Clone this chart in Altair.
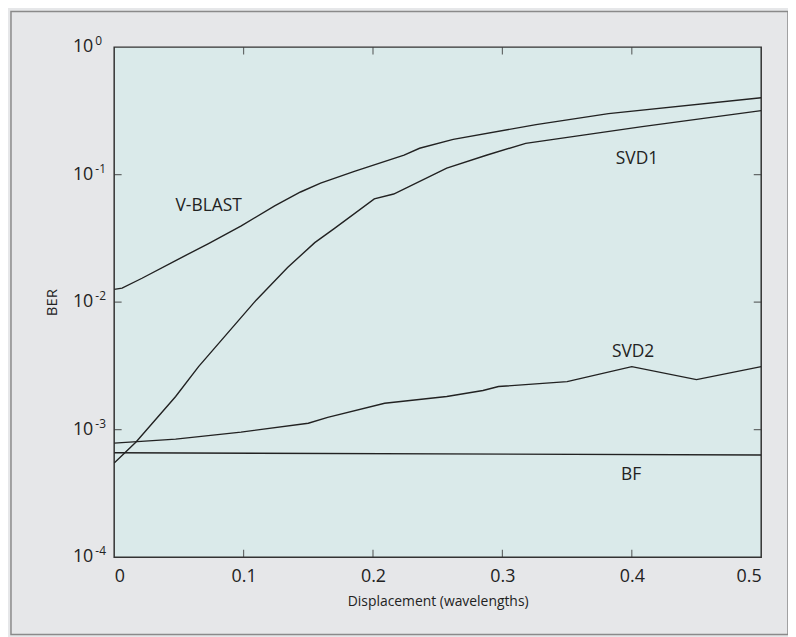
import altair as alt
import pandas as pd

# ---- data ----
vblast_x = [0, 0.0061, 0.0215, 0.0475, 0.0729, 0.0982, 0.124, 0.144, 0.1595, 0.1856, 0.224, 0.236, 0.262, 0.326, 0.382, 0.5]
vblast_y = [0.0126, 0.0129, 0.0154, 0.0212, 0.0288, 0.0397, 0.0568, 0.0731, 0.0859, 0.106, 0.142, 0.161, 0.189, 0.247, 0.301, 0.401]

svd1_x = [0, 0.0169, 0.0475, 0.0652, 0.1097, 0.134, 0.155, 0.170, 0.201, 0.216, 0.257, 0.2876, 0.318, 0.408, 0.5]
svd1_y = [5.48e-4, 8.0e-4, 1.82e-3, 3.12e-3, 1.037e-2, 0.0187, 0.0293, 0.0377, 0.0645, 0.0705, 0.1124, 0.142, 0.176, 0.238, 0.318]

svd2_x = [0, 0.0475, 0.098, 0.15, 0.165, 0.209, 0.257, 0.285, 0.297, 0.35, 0.4, 0.45, 0.5]
svd2_y = [7.85e-4, 8.43e-4, 9.57e-4, 1.124e-3, 1.25e-3, 1.61e-3, 1.82e-3, 2.03e-3, 2.18e-3, 2.38e-3, 3.12e-3, 2.47e-3, 3.12e-3]

bf_x = [0, 0.5]
bf_y = [6.6e-4, 6.33e-4]

label_text = ["V-BLAST", "SVD1", "SVD2", "BF"]
label_x = [0.073, 0.404, 0.401, 0.3995]
label_y = [0.0568, 0.132, 4.08e-3, 4.42e-4]

x_tick_values = [0, 0.1, 0.2, 0.3, 0.4, 0.5]
x_inner_ticks = [0.1, 0.2, 0.3, 0.4]
y_tick_values = [1, 0.1, 0.01, 0.001, 0.0001]
y_tick_exps = ["0", "-1", "-2", "-3", "-4"]
y_inner_ticks = [0.1, 0.01, 0.001]

# ---- tables ----
rows = []
for name, xs, ys in [("V-BLAST", vblast_x, vblast_y), ("SVD1", svd1_x, svd1_y),
                     ("SVD2", svd2_x, svd2_y), ("BF", bf_x, bf_y)]:
    for i, (xv, yv) in enumerate(zip(xs, ys)):
        rows.append({"series": name, "x": xv, "y": yv, "order": i})
df = pd.DataFrame(rows)
labels_df = pd.DataFrame({"x": label_x, "y": label_y, "text": label_text})
ylab_df = pd.DataFrame({"v": y_tick_values, "base": ["10"] * len(y_tick_values), "exp": y_tick_exps})
xt_df = pd.DataFrame({"v": x_inner_ticks})
yt_df = pd.DataFrame({"v": y_inner_ticks})

W, H = 652, 514
FONT = "Open Sans"
INK = "#222222"

xscale = alt.Scale(domain=[0, 0.5], nice=False, zero=False)
yscale = alt.Scale(type="log", domain=[1e-4, 1], nice=False)

lines = alt.Chart(df).mark_line(color=INK, strokeWidth=1.4, clip=True).encode(
    x=alt.X("x:Q", scale=xscale,
            axis=alt.Axis(values=x_tick_values, format=".1~f", title="Displacement (wavelengths)",
                          ticks=False, domain=False, grid=False, labelPadding=10,
                          labelFontSize=18, labelColor=INK, labelFont=FONT,
                          titleFontSize=14, titleFont=FONT, titleColor=INK,
                          titleFontWeight="normal", titlePadding=10)),
    y=alt.Y("y:Q", scale=yscale,
            axis=alt.Axis(labels=False, ticks=False, domain=False, grid=False, title="BER",
                          titleFontSize=15, titleFont=FONT, titleColor=INK,
                          titleFontWeight="normal", titlePadding=55)),
    detail="series:N",
    order="order:Q",
)

series_labels = alt.Chart(labels_df).mark_text(fontSize=17.5, font=FONT, color=INK).encode(
    x=alt.X("x:Q", scale=xscale), y=alt.Y("y:Q", scale=yscale), text="text:N")

ybase = alt.Chart(ylab_df).mark_text(align="right", baseline="middle", fontSize=18, font=FONT, color=INK).encode(
    y=alt.Y("v:Q", scale=yscale), x=alt.value(-21), text="base:N")
yexp = alt.Chart(ylab_df).mark_text(align="left", baseline="middle", fontSize=12, font=FONT, color=INK, dy=-6).encode(
    y=alt.Y("v:Q", scale=yscale), x=alt.value(-19), text="exp:N")

tick_style = dict(color="#333333", thickness=1.2, size=15, clip=True)
xt_bottom = alt.Chart(xt_df).mark_tick(orient="vertical", **tick_style).encode(
    x=alt.X("v:Q", scale=xscale), y=alt.value(H))
xt_top = alt.Chart(xt_df).mark_tick(orient="vertical", **tick_style).encode(
    x=alt.X("v:Q", scale=xscale), y=alt.value(0))
yt_left = alt.Chart(yt_df).mark_tick(orient="horizontal", **tick_style).encode(
    y=alt.Y("v:Q", scale=yscale), x=alt.value(0))
yt_right = alt.Chart(yt_df).mark_tick(orient="horizontal", **tick_style).encode(
    y=alt.Y("v:Q", scale=yscale), x=alt.value(W))

frame = alt.Chart(pd.DataFrame({"a": [0]})).mark_rect(fill=None, stroke="#8a8a8a", strokeWidth=1.5).encode(
    x=alt.value(-104), x2=alt.value(W + 27), y=alt.value(-36), y2=alt.value(H + 78))

chart = alt.layer(frame, lines, series_labels, ybase, yexp, xt_bottom, xt_top, yt_left, yt_right).properties(
    width=W, height=H,
    padding={"left": 107, "top": 37, "right": 27, "bottom": 80},
    autosize=alt.AutoSizeParams(type="none"),
).configure(background="#e6e7e9").configure_view(
    fill="#daeaea", stroke="#333333", strokeWidth=1.5
)

chart.save("out.html", embed_options={"renderer": "svg", "actions": False})
